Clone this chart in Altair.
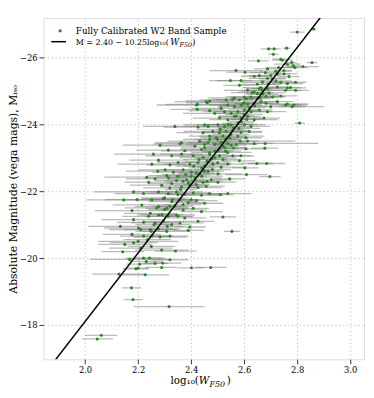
import altair as alt
import pandas as pd

FONT = "DejaVu Serif"

# ---------------- data ----------------
# bright / outlying galaxies
logw_a = [2.800, 2.862, 2.692, 2.713, 2.760, 2.710, 2.654, 2.738, 2.779, 2.791,
          2.856, 2.822, 2.688, 2.569, 2.548, 2.582, 2.638, 2.657, 2.719, 2.750,
          2.769, 2.688, 2.706, 2.763, 2.669, 2.613, 2.657, 2.763, 2.738, 2.563,
          2.601, 2.763, 2.596, 2.809, 2.678, 2.697, 2.685, 2.648, 2.609, 2.603,
          2.545, 2.510, 2.424, 2.423, 2.461, 2.679, 2.638]
mag_a = [-26.76, -26.85, -26.26, -26.26, -26.28, -26.10, -25.90, -25.95, -25.85, -25.70,
         -25.85, -25.73, -25.66, -25.61, -25.31, -25.17, -25.44, -25.46, -25.59, -25.51,
         -25.43, -25.38, -25.36, -25.22, -25.26, -25.02, -25.07, -25.09, -24.85, -24.79,
         -24.82, -24.61, -24.63, -24.04, -23.29, -22.44, -22.83, -22.83, -22.50, -22.70,
         -22.37, -21.90, -24.60, -24.45, -24.65, -23.43, -23.43]
err_a = [0.027, 0.010, 0.030, 0.025, 0.015, 0.020, 0.040, 0.030, 0.020, 0.050,
         0.020, 0.060, 0.050, 0.100, 0.080, 0.060, 0.050, 0.040, 0.060, 0.050,
         0.040, 0.070, 0.050, 0.060, 0.080, 0.090, 0.050, 0.070, 0.060, 0.100,
         0.070, 0.080, 0.060, 0.020, 0.050, 0.040, 0.070, 0.060, 0.080, 0.050,
         0.060, 0.050, 0.120, 0.100, 0.080, 0.200, 0.070]

# upper part of the relation
logw_b = [2.744, 2.763, 2.785, 2.603, 2.700, 2.725, 2.750, 2.588, 2.738, 2.794,
          2.688, 2.663, 2.725, 2.756, 2.775, 2.794, 2.638, 2.650, 2.669, 2.694,
          2.682, 2.707, 2.626, 2.607, 2.650, 2.582, 2.557, 2.532, 2.470, 2.457,
          2.420, 2.470, 2.513, 2.538, 2.563, 2.588, 2.613, 2.638, 2.663, 2.682,
          2.700, 2.725, 2.788, 2.489, 2.526, 2.551, 2.576, 2.601, 2.626, 2.657,
          2.688, 2.507, 2.538, 2.563, 2.588, 2.613, 2.638, 2.675, 2.426, 2.464,
          2.501, 2.526, 2.551, 2.576, 2.601, 2.626, 2.482, 2.507, 2.532, 2.557,
          2.588, 2.619, 2.445, 2.470, 2.495, 2.520, 2.545, 2.576, 2.607, 2.432,
          2.464, 2.489, 2.513, 2.538, 2.570, 2.414, 2.451, 2.507, 2.607]
mag_b = [-25.92, -25.80, -25.75, -25.56, -25.46, -25.51, -25.61, -25.31, -25.26, -25.26,
         -25.07, -25.10, -25.12, -25.02, -25.10, -25.02, -24.97, -24.92, -25.02, -24.94,
         -24.84, -24.82, -24.82, -24.77, -24.77, -24.73, -24.75, -24.73, -24.70, -24.68,
         -24.58, -24.41, -24.48, -24.58, -24.53, -24.58, -24.61, -24.63, -24.68, -24.63,
         -24.53, -24.68, -24.58, -24.33, -24.38, -24.33, -24.38, -24.43, -24.38, -24.43,
         -24.38, -24.19, -24.14, -24.24, -24.19, -24.24, -24.14, -24.19, -23.92, -23.94,
         -23.99, -23.94, -23.99, -24.04, -23.99, -23.94, -23.79, -23.75, -23.79, -23.82,
         -23.76, -23.79, -23.75, -23.65, -23.60, -23.65, -23.60, -23.65, -23.60, -23.50,
         -23.45, -23.40, -23.47, -23.43, -23.40, -23.35, -23.30, -23.27, -23.27]
err_b = [0.04, 0.05, 0.03, 0.07, 0.04, 0.05, 0.03, 0.09, 0.05, 0.04,
         0.06, 0.07, 0.05, 0.06, 0.04, 0.05, 0.06, 0.05, 0.08, 0.06,
         0.07, 0.05, 0.08, 0.06, 0.05, 0.09, 0.08, 0.10, 0.09, 0.12,
         0.15, 0.08, 0.11, 0.07, 0.06, 0.08, 0.05, 0.07, 0.06, 0.05,
         0.20, 0.06, 0.05, 0.12, 0.08, 0.07, 0.09, 0.06, 0.08, 0.05,
         0.07, 0.10, 0.07, 0.06, 0.08, 0.05, 0.09, 0.06, 0.13, 0.09,
         0.08, 0.07, 0.10, 0.06, 0.08, 0.07, 0.11, 0.07, 0.09, 0.06,
         0.08, 0.05, 0.10, 0.08, 0.06, 0.09, 0.07, 0.10, 0.06, 0.12,
         0.08, 0.07, 0.09, 0.06, 0.08, 0.14, 0.09, 0.07, 0.08]

# middle part of the relation
logw_c = [2.283, 2.358, 2.451, 2.526, 2.551, 2.314, 2.376, 2.439, 2.470, 2.501,
          2.538, 2.258, 2.327, 2.364, 2.408, 2.445, 2.476, 2.507, 2.557, 2.252,
          2.277, 2.320, 2.351, 2.395, 2.426, 2.451, 2.482, 2.513, 2.538, 2.274,
          2.302, 2.333, 2.370, 2.401, 2.433, 2.464, 2.501, 2.233, 2.264, 2.314,
          2.345, 2.383, 2.414, 2.445, 2.476, 2.501, 2.327, 2.364, 2.395, 2.426,
          2.457, 2.289, 2.183, 2.221, 2.277, 2.314, 2.345, 2.376, 2.408, 2.439,
          2.470, 2.538, 2.146, 2.196, 2.252, 2.295, 2.327, 2.358, 2.389, 2.420,
          2.451, 2.214, 2.277, 2.308, 2.339, 2.370, 2.408, 2.439, 2.177, 2.246,
          2.277, 2.314, 2.345, 2.376, 2.426, 2.520, 2.183, 2.221, 2.264, 2.295,
          2.327, 2.358, 2.395, 2.202, 2.246, 2.277, 2.308, 2.389, 2.554, 2.133,
          2.177, 2.221, 2.252, 2.283, 2.320]
mag_c = [-23.38, -23.42, -23.40, -23.30, -23.38, -23.23, -23.21, -23.25, -23.16, -23.21,
         -23.16, -23.11, -23.06, -23.11, -23.06, -23.01, -22.96, -23.06, -23.06, -22.81,
         -22.93, -22.79, -22.86, -22.81, -22.86, -22.76, -22.81, -22.72, -22.81, -22.60,
         -22.64, -22.57, -22.64, -22.57, -22.52, -22.60, -22.52, -22.42, -22.37, -22.40,
         -22.32, -22.34, -22.40, -22.27, -22.34, -22.27, -22.23, -22.13, -22.18, -22.11,
         -22.15, -22.18, -21.98, -21.93, -21.98, -21.93, -21.98, -21.91, -21.95, -21.88,
         -21.93, -21.93, -21.74, -21.75, -21.74, -21.78, -21.69, -21.74, -21.66, -21.72,
         -21.64, -21.59, -21.54, -21.49, -21.56, -21.44, -21.49, -21.39, -21.42, -21.34,
         -21.29, -21.25, -21.29, -21.20, -21.10, -21.23, -21.15, -21.07, -21.05, -21.10,
         -21.00, -21.05, -20.93, -20.90, -20.85, -20.87, -20.80, -20.83, -20.80, -20.95,
         -20.71, -20.66, -20.66, -20.63, -20.66]
err_c = [0.14, 0.10, 0.07, 0.08, 0.06, 0.12, 0.09, 0.08, 0.07, 0.06,
         0.09, 0.15, 0.10, 0.08, 0.07, 0.09, 0.06, 0.08, 0.07, 0.13,
         0.11, 0.09, 0.08, 0.10, 0.06, 0.08, 0.07, 0.09, 0.06, 0.12,
         0.10, 0.08, 0.09, 0.07, 0.08, 0.06, 0.09, 0.16, 0.11, 0.09,
         0.08, 0.07, 0.10, 0.06, 0.08, 0.07, 0.09, 0.08, 0.06, 0.09,
         0.07, 0.12, 0.15, 0.11, 0.09, 0.08, 0.10, 0.07, 0.06, 0.08,
         0.07, 0.09, 0.14, 0.12, 0.10, 0.08, 0.09, 0.07, 0.06, 0.08,
         0.07, 0.11, 0.09, 0.08, 0.07, 0.09, 0.06, 0.08, 0.14, 0.10,
         0.08, 0.09, 0.07, 0.08, 0.06, 0.05, 0.12, 0.10, 0.09, 0.08,
         0.07, 0.09, 0.06, 0.13, 0.10, 0.08, 0.09, 0.06, 0.03, 0.12,
         0.11, 0.09, 0.08, 0.10, 0.07]

# faint end
logw_d = [2.150, 2.183, 2.142, 2.168, 2.221, 2.243, 2.289, 2.341, 2.320, 2.289,
          2.401, 2.474, 2.192, 2.227, 2.128, 2.175, 2.181, 2.317, 2.061, 2.046,
          2.206, 2.231, 2.264, 2.293, 2.200, 2.210, 2.250]
mag_d = [-20.41, -20.46, -20.19, -19.96, -20.00, -20.00, -20.24, -20.21, -19.95, -19.72,
         -19.71, -19.72, -19.68, -19.50, -19.52, -19.11, -18.76, -18.55, -17.69, -17.58,
         -19.82, -19.90, -19.84, -19.85, -19.70, -20.30, -20.35]
err_d = [0.100, 0.090, 0.080, 0.150, 0.070, 0.060, 0.100, 0.080, 0.070, 0.060,
         0.050, 0.060, 0.050, 0.090, 0.100, 0.036, 0.036, 0.134, 0.060, 0.059,
         0.050, 0.060, 0.050, 0.070, 0.040, 0.120, 0.090]

# crowded core along the fit
logw_e = [2.781, 2.756, 2.582, 2.588, 2.613, 2.339, 2.364, 2.451, 2.308, 2.240,
          2.400, 2.420, 2.440, 2.460, 2.430, 2.470, 2.490, 2.520, 2.500, 2.530,
          2.550, 2.560, 2.580, 2.590, 2.600, 2.620, 2.640, 2.660, 2.670, 2.690,
          2.720, 2.730, 2.390, 2.370, 2.360, 2.350, 2.330, 2.320, 2.300, 2.290,
          2.260, 2.250, 2.235, 2.420, 2.440, 2.450, 2.480, 2.500, 2.520, 2.530,
          2.490, 2.410, 2.380, 2.350, 2.320, 2.300, 2.270, 2.240, 2.210, 2.200,
          2.470, 2.510, 2.540, 2.570, 2.600, 2.630, 2.650, 2.680, 2.610, 2.585,
          2.560, 2.460, 2.400, 2.370, 2.350, 2.310]
mag_e = [-24.53, -24.58, -22.91, -23.06, -23.50, -23.94, -23.45, -23.99, -22.47, -22.27,
         -22.45, -22.55, -22.70, -22.90, -22.95, -23.10, -23.20, -23.35, -23.55, -23.55,
         -23.70, -23.90, -23.88, -24.08, -24.30, -24.50, -24.55, -24.80, -24.90, -25.20,
         -25.30, -25.70, -22.25, -22.30, -22.05, -21.90, -21.75, -21.55, -21.45, -21.30,
         -21.00, -20.80, -20.55, -22.20, -22.45, -22.60, -22.65, -22.85, -22.95, -23.20,
         -23.00, -22.75, -22.50, -22.45, -22.10, -21.80, -21.50, -21.25, -20.85, -20.50,
         -23.55, -23.85, -24.00, -24.25, -24.65, -24.95, -25.20, -25.55, -24.15, -23.50,
         -23.30, -22.30, -21.75, -21.60, -21.25, -20.95]
err_e = [0.05, 0.06, 0.06, 0.05, 0.18, 0.12, 0.10, 0.08, 0.07, 0.09,
         0.06, 0.07, 0.05, 0.08, 0.06, 0.07, 0.05, 0.06, 0.09, 0.05,
         0.07, 0.06, 0.08, 0.05, 0.07, 0.06, 0.05, 0.07, 0.06, 0.05,
         0.06, 0.05, 0.08, 0.07, 0.06, 0.05, 0.09, 0.07, 0.06, 0.08,
         0.07, 0.06, 0.09, 0.05, 0.08, 0.06, 0.07, 0.05, 0.07, 0.06,
         0.08, 0.07, 0.09, 0.08, 0.10, 0.09, 0.12, 0.10, 0.12, 0.15,
         0.10, 0.09, 0.08, 0.07, 0.09, 0.08, 0.07, 0.06, 0.06, 0.07,
         0.05, 0.06, 0.05, 0.07, 0.06, 0.06]

# fitted relation given in the legend: M = 2.40 - 10.25 log10(W_F50)
FIT_INTERCEPT = 2.40
FIT_SLOPE = -10.25
fit_logw = [1.80, 2.95]

x_ticks = [2.0, 2.2, 2.4, 2.6, 2.8, 3.0]
y_ticks = [-26, -24, -22, -20, -18]
X_DOMAIN = [1.843, 3.052]
Y_DOMAIN = [-27.18, -16.97]

legend_label = "Fully Calibrated W2 Band Sample"
y_title = "Absolute Magnitude (vega mags), M\u1d62\u209b\u2092"

# ---------------- chart ----------------
W, H = 326, 347

df = pd.DataFrame({
    "logw": logw_a + logw_b + logw_c + logw_d + logw_e,
    "mag": mag_a + mag_b + mag_c + mag_d + mag_e,
    "err": err_a + err_b + err_c + err_d + err_e,
})
df["lo"] = df["logw"] - df["err"]
df["hi"] = df["logw"] + df["err"]

fit_df = pd.DataFrame({"logw": fit_logw,
                       "mag": [FIT_INTERCEPT + FIT_SLOPE * v for v in fit_logw]})

xs = alt.Scale(domain=X_DOMAIN, nice=False, zero=False)
ys = alt.Scale(domain=Y_DOMAIN, nice=False, zero=False, reverse=True)

common_axis = dict(grid=True, gridColor="#b8b8b8", gridDash=[1.5, 2.5], gridWidth=0.8,
                   domain=False, ticks=True, tickColor="black", tickSize=4.5, tickWidth=0.8,
                   labelFont=FONT, labelFontSize=8.5, labelColor="black", labelPadding=2)

xaxis = alt.Axis(values=x_ticks, format=".1f", title=None, **common_axis)
yaxis = alt.Axis(values=y_ticks, format="d", title=y_title, titleFont=FONT,
                 titleFontSize=11, titleFontWeight="normal", titleColor="black",
                 titlePadding=1, **common_axis)

bars = alt.Chart(df).mark_rule(color="#7a7a7a", opacity=0.5, strokeWidth=1.3, clip=True).encode(
    x=alt.X("lo:Q", scale=xs, axis=xaxis),
    x2="hi:Q",
    y=alt.Y("mag:Q", scale=ys, axis=yaxis),
)

pts = alt.Chart(df).mark_circle(size=10, color="#2a8a1e", opacity=1, clip=True).encode(
    x=alt.X("logw:Q", scale=xs),
    y=alt.Y("mag:Q", scale=ys),
)

fit = alt.Chart(fit_df).mark_line(color="black", strokeWidth=1.5, clip=True).encode(
    x=alt.X("logw:Q", scale=xs),
    y=alt.Y("mag:Q", scale=ys),
)


def txt(text, x, y, size, align="left", style="normal", baseline="alphabetic"):
    return alt.Chart(pd.DataFrame({"t": [text]})).mark_text(
        align=align, baseline=baseline, fontSize=size, fontStyle=style,
        font=FONT, color="black").encode(
        x=alt.value(x), y=alt.value(y), text="t:N")


one = pd.DataFrame({"k": [0]})
leg_dot = alt.Chart(one).mark_circle(size=12, color="#2a8a1e", opacity=1).encode(
    x=alt.value(17), y=alt.value(13))
leg_line = alt.Chart(one).mark_rule(color="black", strokeWidth=1.5).encode(
    x=alt.value(8), x2=alt.value(23), y=alt.value(24))

LS = 8.9
legend_parts = [
    txt(legend_label, 33, 13, LS, baseline="middle"),
    txt("M = 2.40 \u2212 10.25log\u2081\u2080(", 33, 27, 8.0),
    txt("W", 129, 27, LS, style="italic"),
    txt("F50", 138.5, 29, 6.5, style="italic"),
    txt(")", 151, 27, LS),
]

XS = 10.5
xtitle_parts = [
    txt("log\u2081\u2080(", 158, 372, XS, align="right"),
    txt("W", 158, 372, XS, style="italic"),
    txt("F50", 169, 375, 8.0, style="italic"),
    txt(")", 186.5, 372, XS),
]

chart = alt.layer(bars, pts, fit, leg_dot, leg_line, *legend_parts, *xtitle_parts).properties(
    width=W, height=H,
    autosize=alt.AutoSizeParams(type="none"),
    padding={"left": 36, "top": 7, "right": 2, "bottom": 34},
).configure_view(stroke="black", strokeWidth=1).configure(font=FONT)

chart.save("out.html", embed_options={"renderer": "svg", "actions": False})
